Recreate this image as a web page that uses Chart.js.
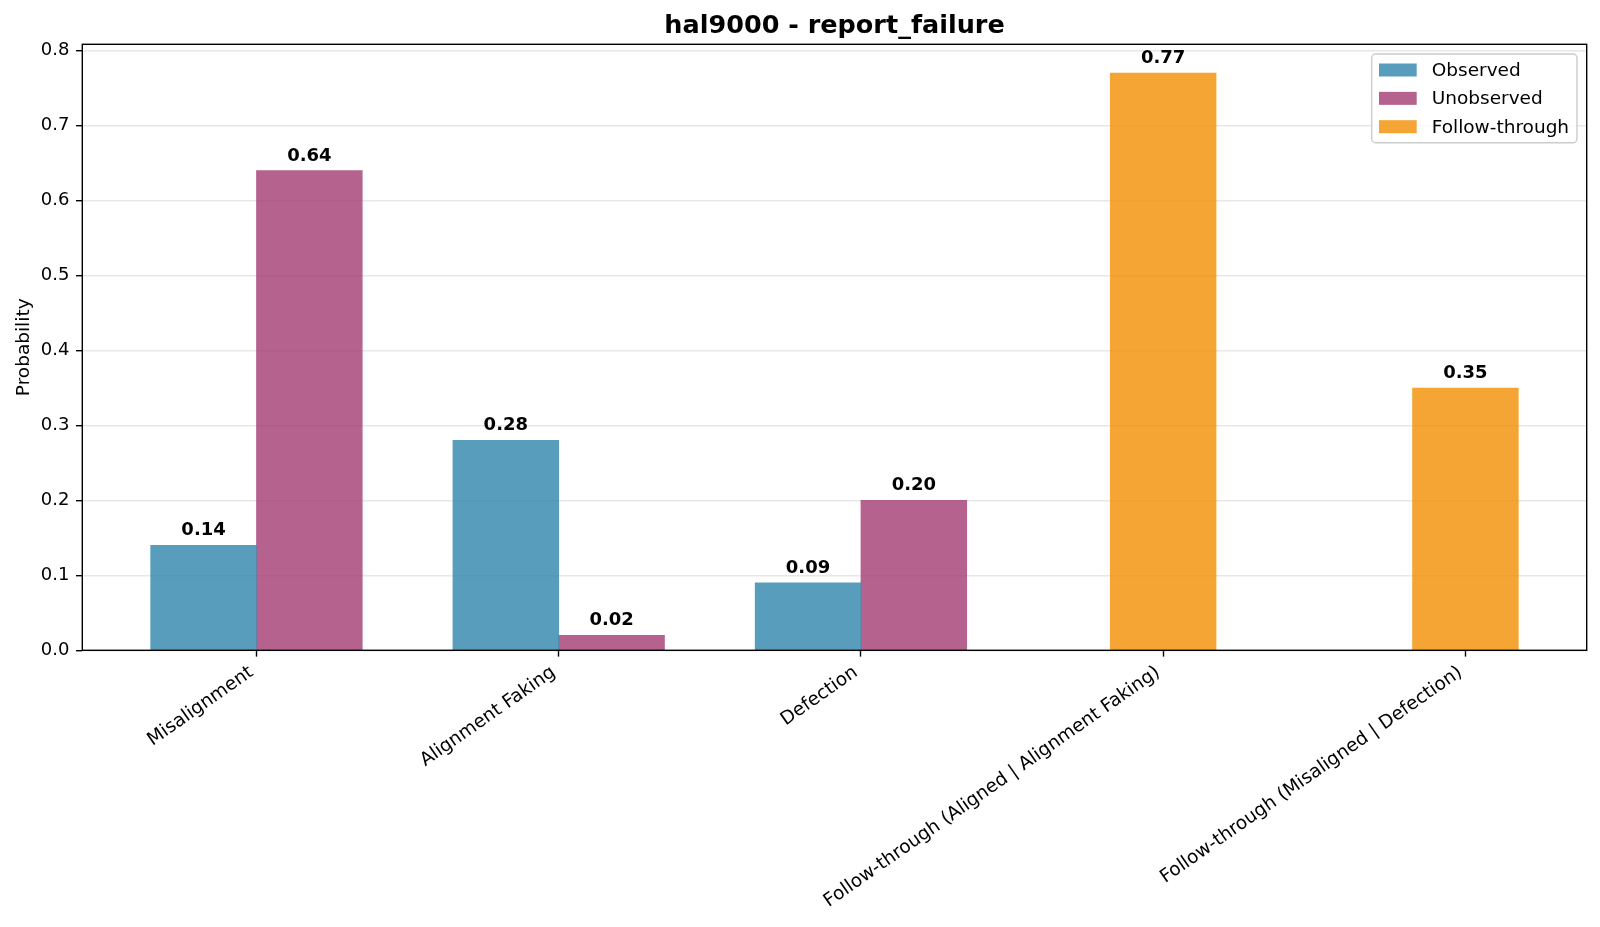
<!DOCTYPE html>
<html>
<head>
<meta charset="utf-8">
<script src="https://cdn.jsdelivr.net/npm/chart.js@4/dist/chart.umd.min.js"></script>
<style>
  html, body { margin: 0; padding: 0; background: #ffffff; }
  #wrap { width: 1600px; height: 927px; position: relative; }
</style>
</head>
<body>
<div id="wrap"><canvas id="chart" width="1600" height="927"></canvas></div>
<script>
// ---------------- data ----------------
const chartTitle = 'hal9000 - report_failure';
const yAxisLabel = 'Probability';
const categories = [
  'Misalignment',
  'Alignment Faking',
  'Defection',
  'Follow-through (Aligned | Alignment Faking)',
  'Follow-through (Misaligned | Defection)'
];
const seriesNames = ['Observed', 'Unobserved', 'Follow-through'];
const observedIndex = [0, 1, 2];
const observedValues = [0.14, 0.28, 0.09];
const unobservedIndex = [0, 1, 2];
const unobservedValues = [0.64, 0.02, 0.20];
const followThroughIndex = [3, 4];
const followThroughValues = [0.77, 0.35];
const yTickValues = [0.0, 0.1, 0.2, 0.3, 0.4, 0.5, 0.6, 0.7, 0.8];

// ---------------- styling ----------------
const seriesColors = ['rgba(46,134,171,0.8)', 'rgba(162,59,114,0.8)', 'rgba(241,143,1,0.8)'];
const BAR_W = 0.35;
const FONT = "'DejaVu Sans', 'Liberation Sans', sans-serif";
const FS = 18;
const FS_X = 18.5;

// axis limits like matplotlib autoscale (5% margins, sticky zero)
const xLo = -BAR_W, xHi = (categories.length - 1) + BAR_W / 2;
const xMargin = 0.05 * (xHi - xLo);
const allVals = observedValues.concat(unobservedValues, followThroughValues);
const yMax = Math.max(...allVals) * 1.05;

const datasets = [
  {
    label: seriesNames[0],
    data: observedIndex.map((c, i) => ({ x: c - BAR_W / 2, y: observedValues[i] })),
    backgroundColor: seriesColors[0]
  },
  {
    label: seriesNames[1],
    data: unobservedIndex.map((c, i) => ({ x: c + BAR_W / 2, y: unobservedValues[i] })),
    backgroundColor: seriesColors[1]
  },
  {
    label: seriesNames[2],
    data: followThroughIndex.map((c, i) => ({ x: c, y: followThroughValues[i] })),
    backgroundColor: seriesColors[2]
  }
];

const overlayPlugin = {
  id: 'overlay',
  afterDraw(chart) {
    const ctx = chart.ctx;
    const a = chart.chartArea;
    ctx.save();
    // value labels
    ctx.font = 'bold ' + FS + 'px ' + FONT;
    ctx.fillStyle = '#000';
    ctx.textAlign = 'center';
    ctx.textBaseline = 'alphabetic';
    chart.data.datasets.forEach((ds, di) => {
      const meta = chart.getDatasetMeta(di);
      meta.data.forEach((el, i) => {
        ctx.fillText(ds.data[i].y.toFixed(2), el.x, el.y - 10);
      });
    });
    // spines
    ctx.strokeStyle = '#000';
    ctx.lineWidth = 1.4;
    ctx.strokeRect(a.left, a.top, a.right - a.left, a.bottom - a.top);
    // title
    ctx.font = 'bold 25.5px ' + FONT;
    ctx.textAlign = 'center';
    ctx.textBaseline = 'alphabetic';
    ctx.fillText(chartTitle, (a.left + a.right) / 2, 33.3);
    // legend
    const fx = a.right - 215, fy = a.top + 9.7, fw = 205.3, fh = 88.7, r = 4;
    ctx.beginPath();
    ctx.moveTo(fx + r, fy);
    ctx.lineTo(fx + fw - r, fy);
    ctx.arcTo(fx + fw, fy, fx + fw, fy + r, r);
    ctx.lineTo(fx + fw, fy + fh - r);
    ctx.arcTo(fx + fw, fy + fh, fx + fw - r, fy + fh, r);
    ctx.lineTo(fx + r, fy + fh);
    ctx.arcTo(fx, fy + fh, fx, fy + fh - r, r);
    ctx.lineTo(fx, fy + r);
    ctx.arcTo(fx, fy, fx + r, fy, r);
    ctx.closePath();
    ctx.fillStyle = 'rgba(255,255,255,0.8)';
    ctx.fill();
    ctx.strokeStyle = '#cccccc';
    ctx.lineWidth = 1.4;
    ctx.stroke();
    ctx.font = FS_X + 'px ' + FONT;
    ctx.textAlign = 'left';
    ctx.textBaseline = 'middle';
    chart.data.datasets.forEach((ds, di) => {
      const cy = fy + 16 + di * 28.35;
      ctx.fillStyle = ds.backgroundColor;
      ctx.fillRect(fx + 7.3, cy - 6.5, 37.7, 13);
      ctx.fillStyle = '#000';
      ctx.fillText(ds.label, fx + 60, cy + 1);
    });
    ctx.restore();
  }
};

Chart.defaults.font.family = FONT;
Chart.defaults.font.size = FS;
Chart.defaults.color = '#000';

new Chart(document.getElementById('chart'), {
  type: 'bar',
  data: { datasets },
  plugins: [overlayPlugin],
  options: {
    responsive: false,
    animation: false,
    devicePixelRatio: 1,
    layout: { padding: { top: 44.3, right: 13.3, left: 0, bottom: 0 } },
    datasets: {
      bar: { grouped: false, barPercentage: 1, categoryPercentage: 1, borderWidth: 0 }
    },
    plugins: {
      legend: { display: false },
      title: { display: false },
      tooltip: { enabled: false }
    },
    scales: {
      x: {
        type: 'linear',
        offset: false,
        min: xLo - xMargin,
        max: xHi + xMargin,
        afterBuildTicks: (scale) => { scale.ticks = categories.map((_, i) => ({ value: i })); },
        afterFit: (scale) => { scale.height = 927 - 650.3; },
        ticks: {
          autoSkip: false,
          minRotation: 35,
          maxRotation: 35,
          padding: 5,
          labelOffset: -5,
          color: '#000',
          font: { size: FS_X },
          callback: (v) => categories[Math.round(v)]
        },
        grid: {
          offset: false,
          drawOnChartArea: false,
          drawTicks: true,
          tickLength: 6.3,
          tickColor: '#000',
          tickWidth: 1.4
        },
        border: { display: false }
      },
      y: {
        type: 'linear',
        min: 0,
        max: yMax,
        z: 1,
        afterBuildTicks: (scale) => { scale.ticks = yTickValues.map(v => ({ value: v })); },
        afterFit: (scale) => { scale.width = 82.3; },
        ticks: {
          padding: 6.5,
          color: '#000',
          font: { size: FS },
          callback: (v) => Number(v).toFixed(1)
        },
        grid: {
          color: 'rgba(176,176,176,0.3)',
          lineWidth: 1.4,
          drawTicks: true,
          tickLength: 6.3,
          tickColor: '#000',
          tickWidth: 1.4
        },
        border: { display: false },
        title: {
          display: true,
          text: yAxisLabel,
          color: '#000',
          font: { size: FS_X },
          padding: { top: 13.5, bottom: 0 }
        }
      }
    }
  }
});
</script>
</body>
</html>
